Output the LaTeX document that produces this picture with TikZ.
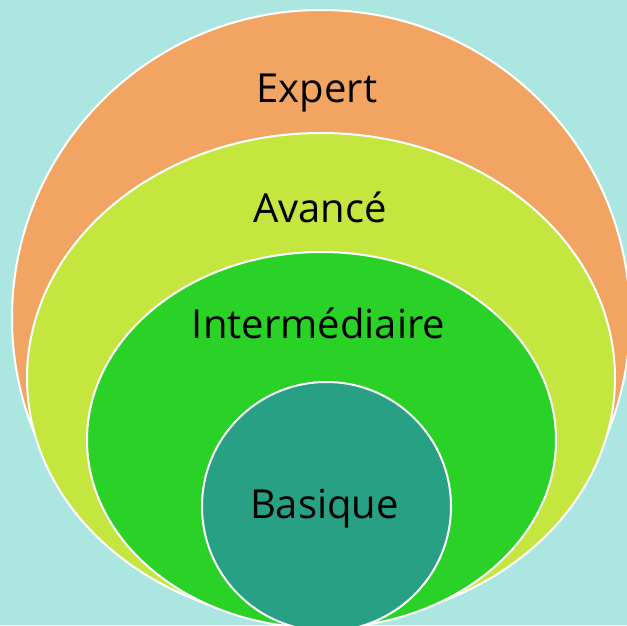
\documentclass[tikz,border=0pt]{standalone}
\usepackage{fontspec}
\setmainfont{Open Sans}
\usetikzlibrary{shapes.geometric}
\definecolor{bgc}{HTML}{ACE6E0}
\definecolor{orangec}{HTML}{F2A462}
\definecolor{limec}{HTML}{C5E63F}
\definecolor{greenc}{HTML}{2AD127}
\definecolor{tealc}{HTML}{27A083}
\tikzset{
  ring/.style={ellipse, draw=white, line width=2pt, inner sep=0pt, outer sep=0pt},
  lbl/.style={font=\fontsize{40}{44}\selectfont, text=black, anchor=base, inner sep=0pt}
}
\begin{document}
\begin{tikzpicture}[x=1pt,y=1pt]
\useasboundingbox (0,0) rectangle (627,625);
\fill[bgc] (0,0) rectangle (627,625);
\clip (0,0) rectangle (627,625);
\node[ring, fill=orangec, minimum width=618pt, minimum height=616pt] (expert) at (321,307) {};
\node[ring, fill=limec, minimum width=588pt, minimum height=490pt] (avance) at (321,247) {};
\node[ring, fill=greenc, minimum width=469pt, minimum height=376pt] (inter) at (321.5,185) {};
\node[ring, fill=tealc, minimum width=249pt, minimum height=249pt] (basique) at (326.5,118.5) {};
\node[lbl] (texpert) at (317,522) {Expert};
\node[lbl] (tavance) at (320,402) {Avancé};
\node[lbl] (tinter) at (318.5,287) {Intermédiaire};
\node[lbl] (tbasique) at (324.5,107) {Basique};
\end{tikzpicture}
\end{document}
